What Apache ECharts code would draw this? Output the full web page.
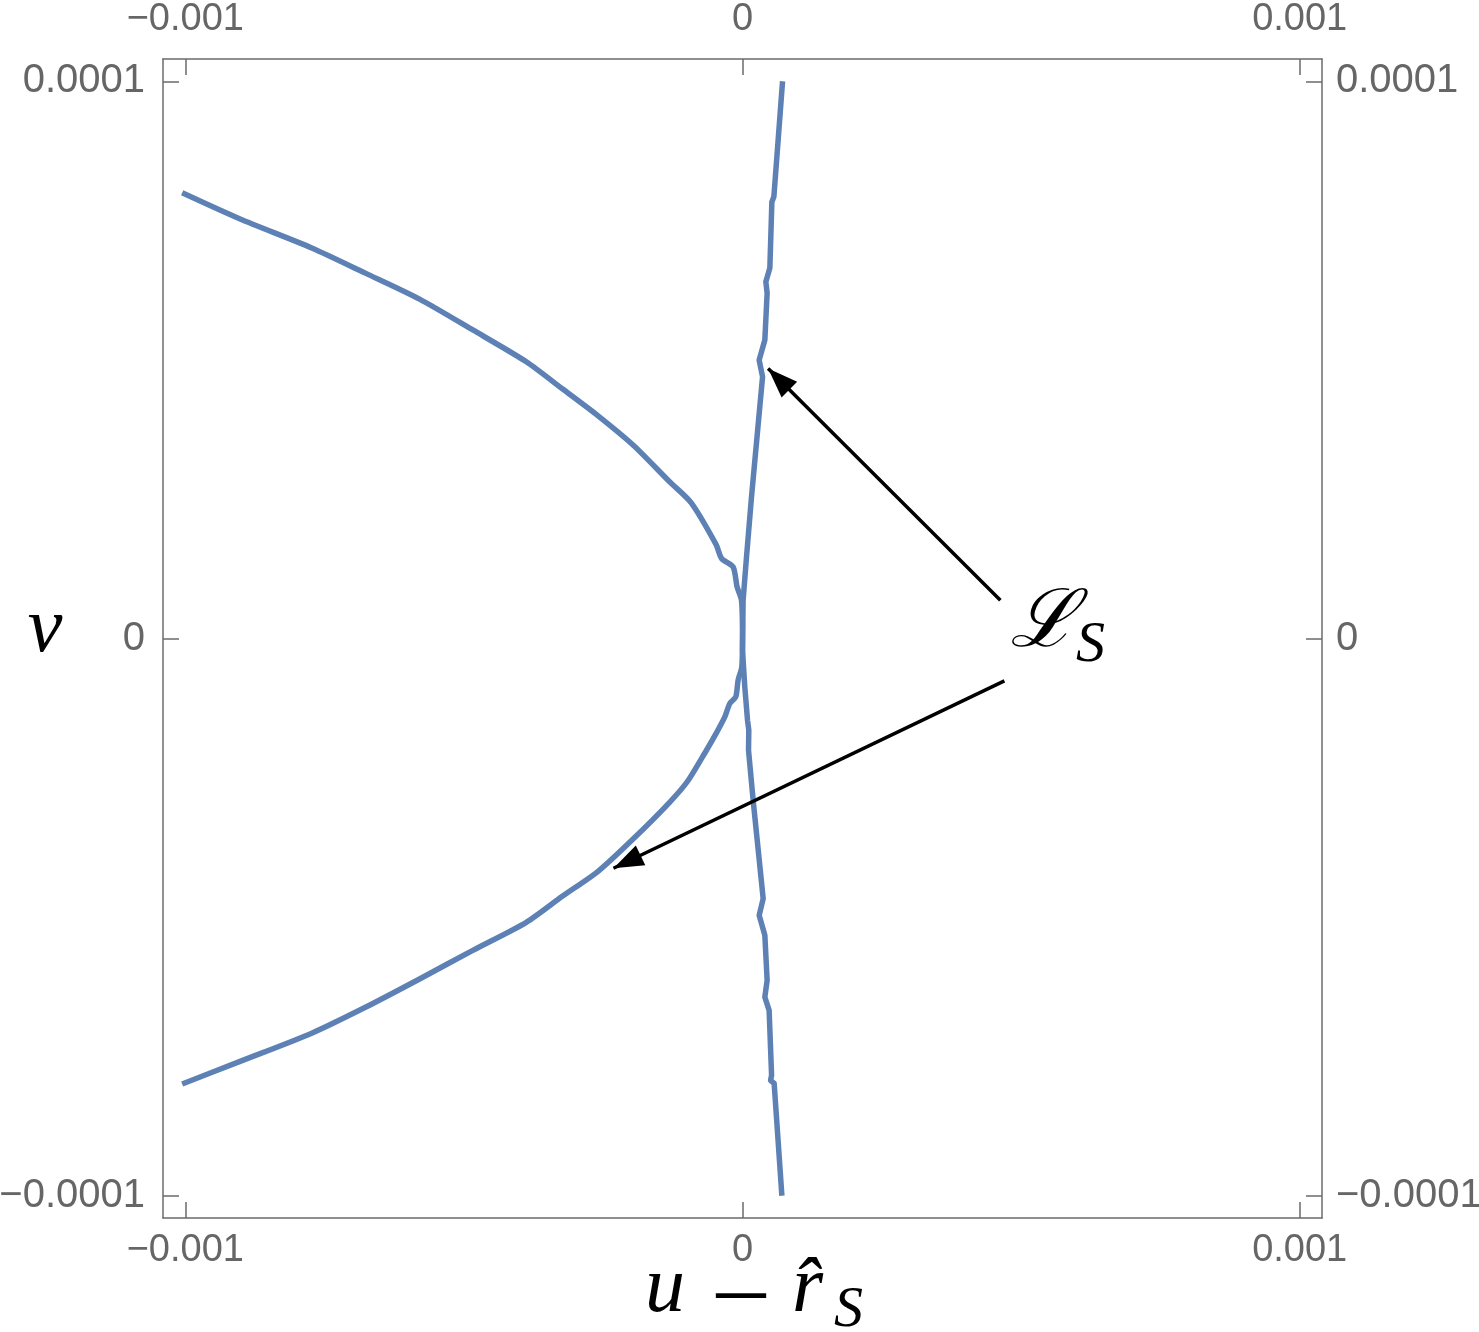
<!DOCTYPE html>
<html>
<head>
<meta charset="utf-8">
<script src="https://cdn.jsdelivr.net/npm/echarts@6/dist/echarts.min.js"></script>
<style>
html,body{margin:0;padding:0;background:#fff;}
#chart{width:1479px;height:1332px;}
</style>
</head>
<body>
<div id="chart"></div>
<script>
// Tick values / labels
const xTicks = [-0.001, 0, 0.001];
const yTicks = [-0.0001, 0, 0.0001];
const xTickLabels = ['\u22120.001', '0', '0.001'];
const yTickLabels = ['\u22120.0001', '0', '0.0001'];
const xRange = [-0.00104, 0.00104];
const yRange = [-0.000104, 0.000104];

// Curve A: near-vertical line (u, v)
const curveA_u = [0.0719e-3, 0.0563e-3, 0.0527e-3, 0.0491e-3, 0.0419e-3, 0.0442e-3, 0.0401e-3, 0.0299e-3, 0.0360e-3, 0.0162e-3, 0.0072e-3, 0.0011e-3, 0, 0.0041e-3, 0.0090e-3, 0.0113e-3, 0.0108e-3, 0.0191e-3, 0.0371e-3, 0.0299e-3, 0.0401e-3, 0.0442e-3, 0.0401e-3, 0.0478e-3, 0.0522e-3, 0.0504e-3, 0.0568e-3, 0.0707e-3];
const curveA_v = [1.0e-4, 0.7928e-4, 0.7833e-4, 0.6648e-4, 0.6402e-4, 0.6199e-4, 0.5355e-4, 0.4996e-4, 0.4697e-4, 0.2542e-4, 0.1465e-4, 0.0688e-4, -0.0210e-4, -0.0869e-4, -0.1467e-4, -0.1646e-4, -0.2005e-4, -0.2903e-4, -0.4668e-4, -0.4968e-4, -0.5327e-4, -0.6135e-4, -0.6435e-4, -0.6673e-4, -0.7840e-4, -0.7930e-4, -0.7984e-4, -1.0e-4];

// Curve B: parabola-like curve (u, v)
const curveB_u = [-1.0056e-3, -0.9016e-3, -0.7730e-3, -0.6768e-3, -0.5804e-3, -0.4840e-3, -0.3880e-3, -0.3234e-3, -0.2592e-3, -0.1950e-3, -0.1308e-3, -0.0923e-3, -0.0473e-3, -0.0376e-3, -0.0169e-3, -0.0097e-3, -0.0018e-3, 0, -0.0013e-3, -0.0079e-3, -0.0121e-3, -0.0228e-3, -0.0318e-3, -0.0473e-3, -0.0647e-3, -0.0986e-3, -0.1308e-3, -0.1950e-3, -0.2592e-3, -0.3234e-3, -0.3880e-3, -0.4840e-3, -0.5804e-3, -0.6768e-3, -0.7730e-3, -0.9016e-3, -1.0056e-3];
const curveB_v = [0.7998e-4, 0.7528e-4, 0.7009e-4, 0.6557e-4, 0.6095e-4, 0.5537e-4, 0.4966e-4, 0.4481e-4, 0.3996e-4, 0.3460e-4, 0.2813e-4, 0.2438e-4, 0.1684e-4, 0.1436e-4, 0.1285e-4, 0.0926e-4, 0.0688e-4, 0, -0.0510e-4, -0.0749e-4, -0.1048e-4, -0.1167e-4, -0.1408e-4, -0.1704e-4, -0.2005e-4, -0.2562e-4, -0.2939e-4, -0.3585e-4, -0.4178e-4, -0.4627e-4, -0.5093e-4, -0.5596e-4, -0.6115e-4, -0.6619e-4, -0.7083e-4, -0.7589e-4, -0.7996e-4];

// Annotation arrows: [tailU, tailV, tipU, tipV]
const arrow1 = [0.4628e-3, 0.0688e-4, 0.0460e-3, 0.4847e-4];
const arrow2 = [0.4700e-3, -0.0761e-4, -0.2315e-3, -0.4124e-4];

const frameColor = '#6b6b6b';
const labelColor = '#666666';
const curveColor = '#5e81b5';

function fmtX(v) {
  for (let i = 0; i < xTicks.length; i++) if (Math.abs(v - xTicks[i]) < 1e-9) return xTickLabels[i];
  return '';
}
function fmtY(v) {
  for (let i = 0; i < yTicks.length; i++) if (Math.abs(v - yTicks[i]) < 1e-10) return yTickLabels[i];
  return '';
}

function xAxisDef(pos, margin) {
  return {
    type: 'value', position: pos, min: xRange[0], max: xRange[1],
    axisLine: { show: true, onZero: false, lineStyle: { color: frameColor, width: 1.5 } },
    axisTick: { show: true, inside: true, length: 16, customValues: xTicks, lineStyle: { color: frameColor, width: 1.5 } },
    axisLabel: { show: true, customValues: xTicks, formatter: fmtX, margin: margin, color: labelColor, fontSize: 38, fontFamily: 'Liberation Sans, Arial, sans-serif' },
    splitLine: { show: false }
  };
}
function yAxisDef(pos, margin) {
  return {
    type: 'value', position: pos, min: yRange[0], max: yRange[1],
    axisLine: { show: true, onZero: false, lineStyle: { color: frameColor, width: 1.5 } },
    axisTick: { show: true, inside: true, length: 16, customValues: yTicks, lineStyle: { color: frameColor, width: 1.5 } },
    axisLabel: { show: true, customValues: yTicks, formatter: fmtY, margin: margin, color: labelColor, fontSize: 40, fontFamily: 'Liberation Sans, Arial, sans-serif' },
    splitLine: { show: false }
  };
}

const dataA = curveA_u.map((u, i) => [u, curveA_v[i]]);
const dataB = curveB_u.map((u, i) => [u, curveB_v[i]]);

const chart = echarts.init(document.getElementById('chart'), null, { renderer: 'canvas' });
const mathFont = "'Liberation Serif', 'DejaVu Serif', serif";
chart.setOption({
  animation: false,
  backgroundColor: '#ffffff',
  grid: { left: 163, top: 59, right: 157, bottom: 114, containLabel: false, outerBoundsMode: 'none' },
  xAxis: [xAxisDef('bottom', 14), xAxisDef('top', 20)],
  yAxis: [yAxisDef('left', 18), yAxisDef('right', 14)],
  series: [
    {
      type: 'line', xAxisIndex: 0, yAxisIndex: 0, data: dataB, showSymbol: false, symbol: 'none',
      smooth: 0.25,
      lineStyle: { color: curveColor, width: 5.5, join: 'round', cap: 'butt' }, silent: true
    },
    {
      type: 'line', xAxisIndex: 0, yAxisIndex: 0, data: dataA, showSymbol: false, symbol: 'none',
      lineStyle: { color: curveColor, width: 5.5, join: 'round', cap: 'butt' }, silent: true,
      markLine: {
        silent: true, animation: false,
        symbol: ['none', 'triangle'], symbolSize: [22, 30], symbolOffset: [0, [0, 15]],
        label: { show: false },
        lineStyle: { color: '#000', width: 3.5, type: 'solid' },
        itemStyle: { color: '#000' },
        emphasis: { disabled: true },
        data: [
          [{ coord: [arrow1[0], arrow1[1]] }, { coord: [arrow1[2], arrow1[3]] }],
          [{ coord: [arrow2[0], arrow2[1]] }, { coord: [arrow2[2], arrow2[3]] }]
        ]
      }
    }
  ],
  graphic: [
    { type: 'text', silent: true, style: { x: 45, y: 630, text: 'v', font: 'italic 78px ' + mathFont, fill: '#000', textAlign: 'center', textVerticalAlign: 'middle' } },
    { type: 'text', silent: true, style: { x: 645, y: 1290, text: 'u', font: 'italic 80px ' + mathFont, fill: '#000', textAlign: 'left', textVerticalAlign: 'middle' } },
    { type: 'text', silent: true, style: { x: 741, y: 1292, text: '\u2013', font: '98px ' + mathFont, fill: '#000', textAlign: 'center', textVerticalAlign: 'middle' } },
    { type: 'text', silent: true, style: { x: 792, y: 1290, text: 'r\u0302', font: 'italic 80px ' + mathFont, fill: '#000', textAlign: 'left', textVerticalAlign: 'middle' } },
    { type: 'text', silent: true, style: { x: 834, y: 1311, text: 'S', font: 'italic 58px ' + mathFont, fill: '#000', textAlign: 'left', textVerticalAlign: 'middle' } },
    { type: 'text', silent: true, style: { x: 1010, y: 625, text: '\u2112', font: 'italic 80px ' + mathFont, fill: '#000', textAlign: 'left', textVerticalAlign: 'middle' } },
    { type: 'text', silent: true, style: { x: 1076, y: 646, text: 'S', font: 'italic 58px ' + mathFont, fill: '#000', textAlign: 'left', textVerticalAlign: 'middle' } }
  ]
});
</script>
</body>
</html>
